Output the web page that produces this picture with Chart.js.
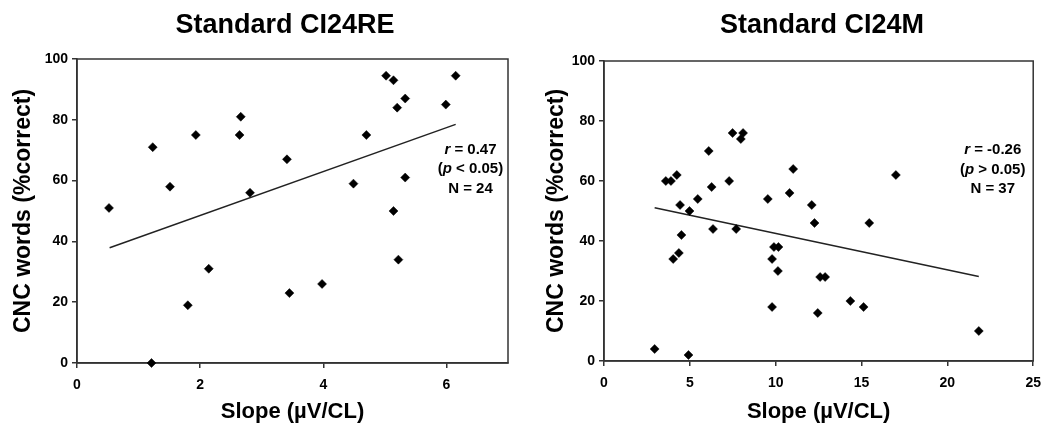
<!DOCTYPE html>
<html>
<head>
<meta charset="utf-8">
<script src="https://cdn.jsdelivr.net/npm/chart.js@4/dist/chart.umd.min.js"></script>
<style>
  html, body { margin: 0; padding: 0; background: #fff; }
  .panel { position: absolute; top: 0; width: 525px; height: 440px; }
  #left { left: 0; }
  #right { left: 525px; }
</style>
</head>
<body>
<div class="panel" id="left"><canvas id="c1" width="525" height="440"></canvas></div>
<div class="panel" id="right"><canvas id="c2" width="525" height="440"></canvas></div>
<script>
// CI24RE panel
const leftX = [0.52, 1.23, 1.51, 1.93, 1.80, 2.14, 1.21, 2.66, 2.64, 2.81, 3.41, 3.45, 3.98, 4.49, 4.70, 5.02, 5.14, 5.33, 5.20, 5.99, 6.15, 5.33, 5.14, 5.22];
const leftY = [51, 71, 58, 75, 19, 31, 0, 81, 75, 56, 67, 23, 26, 59, 75, 94.5, 93, 87, 84, 85, 94.5, 61, 50, 34];
const leftFitX = [0.53, 6.15];
const leftFitY = [37.9, 78.5];
const leftXTicks = [0, 2, 4, 6];
const leftNotes = ['r = 0.47', '(p < 0.05)', 'N = 24'];

// CI24M panel
const rightX = [2.95, 4.92, 3.6, 3.9, 4.24, 4.43, 4.98, 4.51, 4.36, 4.03, 5.46, 6.1, 6.27, 6.35, 7.29, 7.49, 7.97, 8.1, 7.7, 9.54, 9.9, 10.16, 9.79, 10.13, 9.79, 10.81, 11.02, 12.1, 12.26, 12.59, 12.88, 12.45, 14.35, 15.12, 15.45, 17.0, 21.83];
const rightY = [4, 2, 60, 60, 62, 52, 50, 42, 36, 34, 54, 70, 58, 44, 60, 76, 74, 76, 44, 54, 38, 38, 34, 30, 18, 56, 64, 52, 46, 28, 28, 16, 20, 18, 46, 62, 10];
const rightFitX = [2.95, 21.83];
const rightFitY = [51.1, 28.2];
const rightXTicks = [0, 5, 10, 15, 20, 25];
const rightNotes = ['r = -0.26', '(p > 0.05)', 'N = 37'];

const yTicks = [0, 20, 40, 60, 80, 100];

const FONT = 'Arial, "Liberation Sans", sans-serif';
const AXIS = '#333';

// panel title centred over the plot area + box round it + r/p/N notes
const panelDeco = {
  id: 'panelDeco',
  beforeDatasetsDraw(chart, args, opts) {
    const {ctx, chartArea: a} = chart;
    ctx.save();
    ctx.strokeStyle = AXIS;
    ctx.lineWidth = 1.5;
    ctx.strokeRect(a.left, a.top, a.right - a.left, a.bottom - a.top);
    ctx.restore();
  },
  afterDraw(chart, args, opts) {
    const {ctx, scales} = chart;
    ctx.save();
    ctx.fillStyle = '#000';
    ctx.textBaseline = 'middle';
    ctx.textAlign = 'center';
    ctx.font = 'bold 27px ' + FONT;
    ctx.fillText(opts.title, opts.titleX, 26);

    // notes, with r and p in italics
    const cx = scales.x.getPixelForValue(opts.noteX);
    let cy = scales.y.getPixelForValue(opts.noteY);
    ctx.textAlign = 'left';
    opts.notes.forEach(line => {
      const parts = line.split(/([rp])/).filter(s => s.length);
      const fontOf = s => (s === 'r' || s === 'p' ? 'italic bold 15px ' : 'bold 15px ') + FONT;
      let w = 0;
      parts.forEach(s => { ctx.font = fontOf(s); w += ctx.measureText(s).width; });
      let x = cx - w / 2;
      parts.forEach(s => {
        ctx.font = fontOf(s);
        ctx.fillText(s, x, cy);
        x += ctx.measureText(s).width;
      });
      cy += 19.5;
    });
    ctx.restore();
  }
};

function makeChart(id, xs, ys, fitX, fitY, xMax, xTicks, notes, deco, lay) {
  const pts = xs.map((x, i) => ({x: x, y: ys[i]}));
  const fit = fitX.map((x, i) => ({x: x, y: fitY[i]}));
  return new Chart(document.getElementById(id), {
    type: 'scatter',
    data: {
      datasets: [
        {
          data: pts,
          pointStyle: 'rectRot',
          pointRadius: 4.5,
          pointHoverRadius: 4.5,
          backgroundColor: '#000',
          borderColor: '#000',
          borderWidth: 0.5,
          clip: false
        },
        {
          type: 'line',
          data: fit,
          borderColor: '#222',
          borderWidth: 1.5,
          pointRadius: 0,
          fill: false,
          clip: false
        }
      ]
    },
    options: {
      responsive: false,
      animation: false,
      events: [],
      layout: { padding: { top: lay.top, right: lay.right, bottom: 0, left: 0 } },
      plugins: {
        legend: { display: false },
        tooltip: { enabled: false },
        panelDeco: Object.assign({ notes: notes }, deco)
      },
      scales: {
        x: {
          type: 'linear',
          min: 0,
          max: xMax,
          afterBuildTicks: s => { s.ticks = xTicks.map(v => ({value: v})); },
          afterFit: s => { s.height = lay.xh; },
          grid: { drawOnChartArea: false, drawTicks: true, tickLength: 5, color: AXIS, lineWidth: 1.5 },
          border: { display: true, color: AXIS, width: 1.5 },
          ticks: { color: '#000', padding: 9, font: { family: FONT, size: 14, weight: 'bold' }, maxRotation: 0 },
          title: {
            display: true,
            text: 'Slope (\u00b5V/CL)',
            color: '#000',
            font: { family: FONT, size: 22, weight: 'bold' },
            padding: { top: 0, bottom: 15 }
          }
        },
        y: {
          type: 'linear',
          min: 0,
          max: 100,
          afterBuildTicks: s => { s.ticks = yTicks.map(v => ({value: v})); },
          afterFit: s => { s.width = lay.yw; },
          grid: { drawOnChartArea: false, drawTicks: true, tickLength: 5, color: AXIS, lineWidth: 1.5 },
          border: { display: true, color: AXIS, width: 1.5 },
          ticks: { color: '#000', padding: 4, font: { family: FONT, size: 14, weight: 'bold' } },
          title: {
            display: true,
            text: 'CNC words (%correct)',
            color: '#000',
            font: { family: FONT, size: 23, weight: 'bold' },
            padding: { top: lay.ytPad, bottom: 0 }
          }
        }
      }
    },
    plugins: [panelDeco]
  });
}

makeChart('c1', leftX, leftY, leftFitX, leftFitY, 7, leftXTicks, leftNotes,
  { title: 'Standard CI24RE', titleX: 285, noteX: 6.39, noteY: 70.2 },
  { top: 59, right: 17, xh: 77, yw: 77, ytPad: 10 });

makeChart('c2', rightX, rightY, rightFitX, rightFitY, 25, rightXTicks, rightNotes,
  { title: 'Standard CI24M', titleX: 297, noteX: 22.64, noteY: 70.3 },
  { top: 61, right: 14, xh: 79, yw: 79, ytPad: 18 });
</script>
</body>
</html>
